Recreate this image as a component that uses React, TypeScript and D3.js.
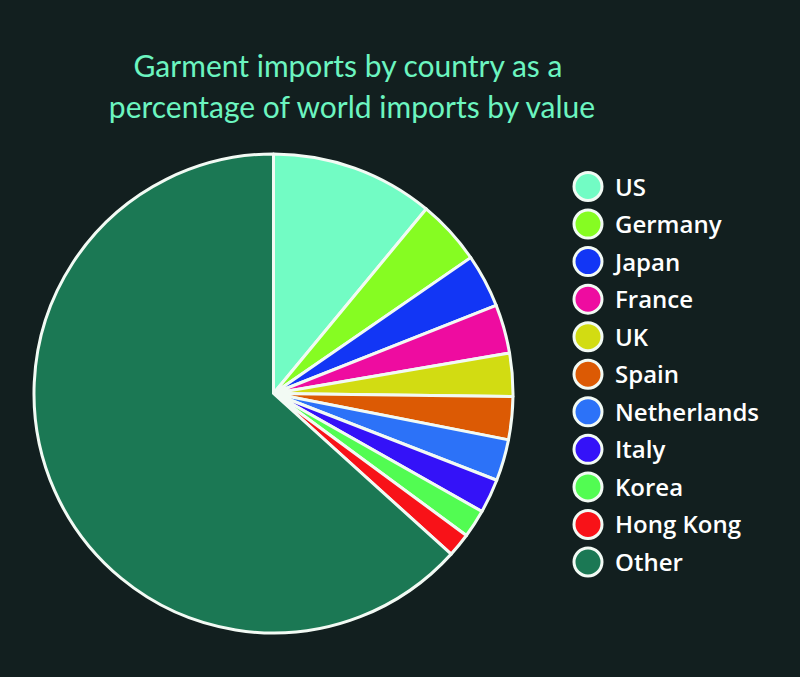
import React from "react";
import * as d3 from "d3";

const countries = ["US", "Germany", "Japan", "France", "UK", "Spain", "Netherlands", "Italy", "Korea", "Hong Kong", "Other"];
const shares = [11.0, 4.4, 3.6, 3.3, 2.9, 2.9, 2.8, 2.3, 1.9, 1.6, 63.3];
const colors = ["#72fcc4", "#86fc22", "#1236f5", "#ee0ca0", "#d2dc12", "#dc5a04", "#2c72f8", "#3412f8", "#52fc52", "#f81218", "#1b7854"];
const titleLines = ["Garment imports by country as a", "percentage of world imports by value"];

const W = 800;
const H = 677;

export default function App() {
  const cx = 273.5;
  const cy = 393.5;
  const r = 239.5;
  const data = countries.map((c, i) => ({ name: c, value: shares[i], color: colors[i] }));
  const pie = d3.pie<any>().sort(null).value((d: any) => d.value);
  const arcs = pie(data);
  const arcGen = d3.arc<any>().innerRadius(0).outerRadius(r);
  const legendY = d3.scalePoint<string>().domain(countries).range([186.5, 562]);

  return (
    <svg width={W} height={H} style={{ position: "absolute", left: 0, top: 0, display: "block" }}>
      <rect x={0} y={0} width={W} height={H} fill="#121f1f" />
      <g fontFamily="Lato, 'Open Sans', sans-serif" fontSize={30} fill="#6cf5c0" textAnchor="middle">
        <text x={348} y={77}>{titleLines[0]}</text>
        <text x={352} y={118}>{titleLines[1]}</text>
      </g>
      <g transform={`translate(${cx},${cy})`}>
        {arcs.map((a, i) => (
          <path key={i} d={arcGen(a) as string} fill={a.data.color} stroke="#f2faf4" strokeWidth={3} strokeLinejoin="round" />
        ))}
      </g>
      <g>
        {countries.map((c, i) => (
          <g key={c} transform={`translate(588,${legendY(c)})`}>
            <circle r={14} fill={colors[i]} stroke="#f2faf4" strokeWidth={3} />
            <text x={27} y={9} fontFamily="'Open Sans', sans-serif" fontWeight={600} fontSize={24} fill="#ffffff">{c}</text>
          </g>
        ))}
      </g>
    </svg>
  );
}
